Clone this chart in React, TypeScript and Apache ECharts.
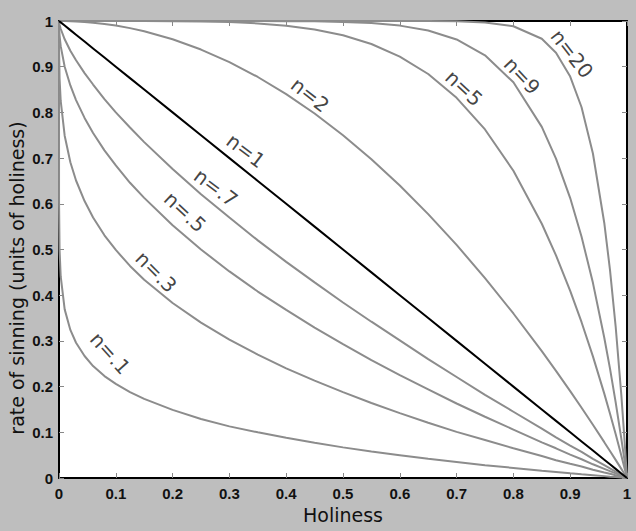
import React, { useEffect, useRef } from "react";
import * as echarts from "echarts";

// Holiness (x) sample positions shared by every curve
const holiness = [0, 0.0001, 0.001, 0.003, 0.01, 0.02, 0.03, 0.045, 0.06, 0.08, 0.1, 0.125, 0.15, 0.2, 0.25, 0.3, 0.35, 0.4, 0.45, 0.5, 0.55, 0.6, 0.65, 0.7, 0.75, 0.8, 0.85, 0.875, 0.9, 0.92, 0.94, 0.96, 0.97, 0.98, 0.99, 0.995, 1];

// rate of sinning for each curve
const nPoint1 = [1, 0.602, 0.499, 0.441, 0.369, 0.324, 0.296, 0.267, 0.245, 0.223, 0.206, 0.188, 0.173, 0.149, 0.129, 0.113, 0.1, 0.088, 0.077, 0.067, 0.058, 0.05, 0.042, 0.035, 0.028, 0.022, 0.016, 0.0133, 0.0105, 0.0083, 0.0062, 0.0041, 0.003, 0.002, 0.001, 0.0005, 0];
const nPoint3 = [1, 0.937, 0.874, 0.825, 0.749, 0.691, 0.651, 0.606, 0.57, 0.531, 0.499, 0.464, 0.434, 0.383, 0.34, 0.303, 0.27, 0.24, 0.213, 0.188, 0.164, 0.142, 0.121, 0.101, 0.083, 0.065, 0.048, 0.039, 0.031, 0.025, 0.018, 0.012, 0.0091, 0.006, 0.003, 0.0015, 0];
const nPoint5 = [1, 0.99, 0.968, 0.945, 0.9, 0.859, 0.827, 0.788, 0.755, 0.717, 0.684, 0.646, 0.613, 0.553, 0.5, 0.452, 0.408, 0.368, 0.329, 0.293, 0.258, 0.225, 0.194, 0.163, 0.134, 0.106, 0.078, 0.065, 0.051, 0.041, 0.03, 0.02, 0.015, 0.01, 0.005, 0.0025, 0];
const nPoint7 = [1, 0.998, 0.992, 0.983, 0.96, 0.935, 0.914, 0.886, 0.861, 0.829, 0.8, 0.767, 0.735, 0.676, 0.621, 0.57, 0.52, 0.473, 0.428, 0.384, 0.342, 0.301, 0.26, 0.221, 0.182, 0.145, 0.108, 0.089, 0.071, 0.057, 0.042, 0.028, 0.021, 0.014, 0.007, 0.0035, 0];
const nOne = [1, 0.9999, 0.999, 0.997, 0.99, 0.98, 0.97, 0.955, 0.94, 0.92, 0.9, 0.875, 0.85, 0.8, 0.75, 0.7, 0.65, 0.6, 0.55, 0.5, 0.45, 0.4, 0.35, 0.3, 0.25, 0.2, 0.15, 0.125, 0.1, 0.08, 0.06, 0.04, 0.03, 0.02, 0.01, 0.005, 0];
const nTwo = [1, 1, 1, 1, 0.9999, 0.9996, 0.9991, 0.998, 0.9964, 0.9936, 0.99, 0.9844, 0.9775, 0.96, 0.9375, 0.91, 0.8775, 0.84, 0.7975, 0.75, 0.6975, 0.64, 0.5775, 0.51, 0.4375, 0.36, 0.2775, 0.2344, 0.19, 0.1536, 0.1164, 0.0784, 0.0591, 0.0396, 0.0199, 0.00998, 0];
const nFive = [1, 1, 1, 1, 1, 1, 1, 1, 1, 1, 1, 1, 0.9999, 0.9997, 0.999, 0.9976, 0.9947, 0.9898, 0.9815, 0.9688, 0.9497, 0.9222, 0.884, 0.8319, 0.7627, 0.6723, 0.5563, 0.487, 0.4095, 0.3409, 0.2661, 0.1846, 0.1413, 0.0961, 0.049, 0.0248, 0];
const nNine = [1, 1, 1, 1, 1, 1, 1, 1, 1, 1, 1, 1, 1, 1, 1, 1, 0.9999, 0.9997, 0.9992, 0.998, 0.9954, 0.9899, 0.9793, 0.9596, 0.9249, 0.8658, 0.7684, 0.699, 0.6126, 0.528, 0.427, 0.307, 0.24, 0.166, 0.086, 0.044, 0];
const nTwenty = [1, 1, 1, 1, 1, 1, 1, 1, 1, 1, 1, 1, 1, 1, 1, 1, 1, 1, 1, 1, 1, 1, 0.9998, 0.9992, 0.9968, 0.9885, 0.9612, 0.9307, 0.8784, 0.8113, 0.71, 0.558, 0.456, 0.332, 0.182, 0.095, 0];

const grayCurves = [nPoint1, nPoint3, nPoint5, nPoint7, nTwo, nFive, nNine, nTwenty];

// curve labels (text, holiness, rate, angle)
const labelNames = ["n=20", "n=9", "n=5", "n=2", "n=1", "n=.7", "n=.5", "n=.3", "n=.1"];
const labelX = [0.903, 0.815, 0.713, 0.442, 0.329, 0.276, 0.222, 0.171, 0.09];
const labelY = [0.928, 0.88, 0.853, 0.838, 0.716, 0.635, 0.582, 0.451, 0.273];
const labelAngle = [-52, -47, -43, -38, -37, -37, -43, -45, -48];

const tickFmt = (v: number) => String(Math.round(v * 10) / 10);

export default function App() {
  const ref = useRef<HTMLDivElement>(null);
  useEffect(() => {
    if (!ref.current) return;
    const chart = echarts.init(ref.current, null, { renderer: "svg" });
    const pairs = (ys: number[]) => holiness.map((x, i) => [x, ys[i]]);
    const axisLine = { show: true, onZero: false, lineStyle: { color: "#000", width: 2 } };
    const axisTick = { show: true, inside: true, length: 5, lineStyle: { color: "#888", width: 1 } };
    const tickLabel = { color: "#111", fontSize: 15, fontWeight: "bold", fontFamily: "Liberation Sans", formatter: tickFmt };
    const series: any[] = grayCurves.map((ys) => ({
      type: "line",
      data: pairs(ys),
      showSymbol: false,
      lineStyle: { color: "#8c8c8c", width: 2 },
      silent: true,
      z: 2,
    }));
    series.push({
      type: "line",
      data: pairs(nOne),
      showSymbol: false,
      lineStyle: { color: "#000", width: 2 },
      silent: true,
      z: 3,
    });
    series.push({
      type: "scatter",
      symbolSize: 0,
      silent: true,
      z: 4,
      data: labelNames.map((name, i) => ({
        name,
        value: [labelX[i], labelY[i]],
        label: { rotate: labelAngle[i] },
      })),
      label: {
        show: true,
        position: "inside",
        formatter: (p: any) => p.name,
        color: "#111",
        fontSize: 20,
        fontFamily: "DejaVu Sans",
        align: "center",
        verticalAlign: "middle",
      },
    });
    chart.setOption({
      animation: false,
      backgroundColor: "#bebebe",
      grid: { left: 59, right: 9, top: 21, bottom: 53, show: true, backgroundColor: "#fff", borderWidth: 0 },
      xAxis: [
        {
          type: "value", min: 0, max: 1, interval: 0.1, position: "bottom",
          axisLine, axisTick, splitLine: { show: false },
          axisLabel: { ...tickLabel, margin: 8 },
          name: "Holiness", nameLocation: "middle", nameGap: 26,
          nameTextStyle: { fontSize: 19, fontFamily: "DejaVu Sans", color: "#111" },
        },
        {
          type: "value", min: 0, max: 1, interval: 0.1, position: "top",
          axisLine, axisTick, splitLine: { show: false }, axisLabel: { show: false },
        },
      ],
      yAxis: [
        {
          type: "value", min: 0, max: 1, interval: 0.1, position: "left",
          axisLine, axisTick, splitLine: { show: false },
          axisLabel: { ...tickLabel, margin: 6 },
        },
        {
          type: "value", min: 0, max: 1, interval: 0.1, position: "right",
          axisLine, axisTick, splitLine: { show: false }, axisLabel: { show: false },
        },
      ],
      graphic: [
        {
          type: "text",
          x: 17,
          y: 278,
          rotation: Math.PI / 2,
          style: {
            text: "rate of sinning (units of holiness)",
            fontSize: 19,
            fontFamily: "DejaVu Sans",
            fill: "#111",
            align: "center",
            verticalAlign: "middle",
          },
        },
      ],
      series,
    });
    return () => chart.dispose();
  }, []);
  return <div ref={ref} style={{ position: "fixed", left: 0, top: 0, width: 636, height: 531 }} />;
}
